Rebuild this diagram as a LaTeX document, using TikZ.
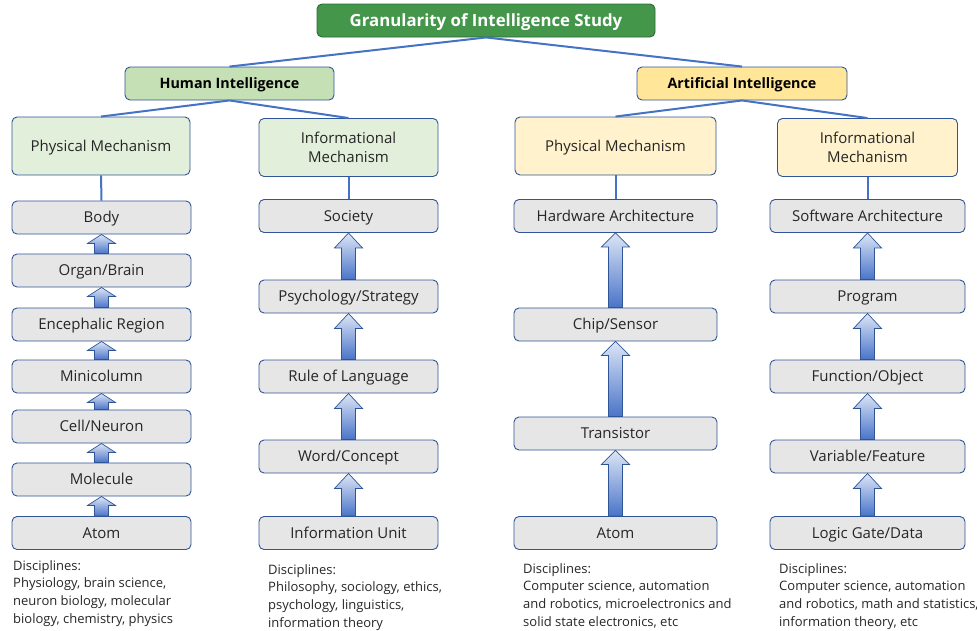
\documentclass[tikz,border=0pt]{standalone}
\usepackage{fontspec}
\setmainfont{Open Sans}
\usetikzlibrary{calc}
\definecolor{edgeblue}{HTML}{2F5597}
\definecolor{lineblue}{HTML}{4472C4}
\definecolor{titlegreen}{HTML}{43964A}
\definecolor{hgreen}{HTML}{C5E0B4}
\definecolor{lgreen}{HTML}{E2EFDA}
\definecolor{ayellow}{HTML}{FFE699}
\definecolor{lyellow}{HTML}{FFF2CC}
\definecolor{boxgray}{HTML}{E7E6E6}
\definecolor{txt}{HTML}{262626}
\definecolor{arrtop}{HTML}{DCE5F6}
\definecolor{arrbot}{HTML}{4A74C8}
\tikzset{
  basebox/.style={draw=edgeblue, line width=0.9pt, rounded corners=5pt, align=center, inner sep=0pt, text=txt},
  titlebox/.style={basebox, text height=14.45pt, text depth=2.35pt, fill=titlegreen, draw=titlegreen!70!black, minimum width=338pt, minimum height=33pt, text=white, font=\fontsize{16.8}{18}\selectfont\bfseries},
  hibox/.style={basebox, text height=12.3pt, text depth=2pt, fill=hgreen, minimum width=209pt, minimum height=33pt, text=black, font=\fontsize{14.3}{16}\selectfont\bfseries},
  aibox/.style={hibox, fill=ayellow, minimum width=210pt},
  mechbox/.style={basebox, minimum height=58pt, font=\fontsize{15}{19.5}\selectfont},
  oneline/.style={text height=12.9pt, text depth=2.1pt},
  levelbox/.style={basebox, oneline, fill=boxgray, minimum height=33pt, font=\fontsize{15}{16}\selectfont},
  conn/.style={draw=lineblue, line width=2pt},
  arrowfill/.style={draw=edgeblue, line width=0.7pt, top color=arrtop, bottom color=arrbot, line join=miter},
  disc/.style={anchor=north west, align=left, inner sep=0pt, text=txt, font=\fontsize{13}{17.7}\selectfont}
}
% #1 lower node, #2 upper node, #3 head height
\newcommand\upblock[3]{%
  \path[arrowfill] let \p1=(#1.north), \p2=(#2.south) in
   (\x1-7pt,\y1) -- (\x1-7pt,\y2-#3pt) -- (\x1-14pt,\y2-#3pt) -- (\x1,\y2)
   -- (\x1+14pt,\y2-#3pt) -- (\x1+7pt,\y2-#3pt) -- (\x1+7pt,\y1) -- cycle;}
\begin{document}
\begin{tikzpicture}[x=1pt,y=-1pt]
\useasboundingbox (0,0) rectangle (977,630);
% top
\node[titlebox] (title) at (486,20.5) {Granularity of Intelligence Study};
\node[hibox] (hi) at (229.5,83.5) {Human Intelligence};
\node[aibox] (ai) at (742,83.5) {Artificial Intelligence};
% mechanisms
\node[mechbox, oneline, fill=lgreen, minimum width=178pt] (hpm) at (101,146) {Physical Mechanism};
\node[mechbox, fill=lgreen, minimum width=179pt] (him) at (348.5,147.5) {Informational\\Mechanism};
\node[mechbox, oneline, fill=lyellow, minimum width=201pt] (apm) at (615.5,146) {Physical Mechanism};
\node[mechbox, fill=lyellow, minimum width=180pt] (aim) at (867.5,147.5) {Informational\\Mechanism};
% connectors
\draw[conn] (title.south) -- (hi.north);
\draw[conn] (title.south) -- (ai.north);
\draw[conn] (hi.south) -- (hpm.north);
\draw[conn] (hi.south) -- (him.north);
\draw[conn] (ai.south) -- (apm.north);
\draw[conn] (ai.south) -- (aim.north);
% human physical column
\begin{scope}[every node/.style={levelbox, minimum width=179pt}]
\node (h1) at (101.5,217.5) {Body};
\node (h2) at (101.5,270.5) {Organ/Brain};
\node (h3) at (101.5,324.5) {Encephalic Region};
\node (h4) at (101.5,376.5) {Minicolumn};
\node (h5) at (101.5,426.5) {Cell/Neuron};
\node (h6) at (101.5,479.5) {Molecule};
\node (h7) at (101.5,533) {Atom};
\end{scope}
% human informational column
\begin{scope}[every node/.style={levelbox, minimum width=179pt}]
\node (i1) at (348.5,216) {Society};
\node (i2) at (348.5,296.5) {Psychology/Strategy};
\node (i3) at (348.5,376.5) {Rule of Language};
\node (i4) at (348.5,456.5) {Word/Concept};
\node (i5) at (348.5,533) {Information Unit};
\end{scope}
% AI physical column
\begin{scope}[every node/.style={levelbox, minimum width=203pt}]
\node (p1) at (615.5,216) {Hardware Architecture};
\node (p2) at (615.5,324.5) {Chip/Sensor};
\node (p3) at (615.5,433.5) {Transistor};
\node (p4) at (615.5,533) {Atom};
\end{scope}
% AI informational column
\begin{scope}[every node/.style={levelbox, minimum width=195pt}]
\node (s1) at (867.5,216) {Software Architecture};
\node (s2) at (867.5,296.5) {Program};
\node (s3) at (867.5,376.5) {Function/Object};
\node (s4) at (867.5,456.5) {Variable/Feature};
\node (s5) at (867.5,533) {Logic Gate/Data};
\end{scope}
% vertical connectors
\draw[conn] (hpm.south) -- (h1.north);
\draw[conn] (him.south) -- (i1.north);
\draw[conn] (apm.south) -- (p1.north);
\draw[conn] (aim.south) -- (s1.north);
% block arrows
\upblock{h2}{h1}{9}
\upblock{h3}{h2}{9}
\upblock{h4}{h3}{9}
\upblock{h5}{h4}{9}
\upblock{h6}{h5}{9}
\upblock{h7}{h6}{9}
\upblock{i2}{i1}{15}
\upblock{i3}{i2}{15}
\upblock{i4}{i3}{15}
\upblock{i5}{i4}{15}
\upblock{p2}{p1}{14}
\upblock{p3}{p2}{14}
\upblock{p4}{p3}{14}
\upblock{s2}{s1}{15}
\upblock{s3}{s2}{15}
\upblock{s4}{s3}{15}
\upblock{s5}{s4}{15}
% disciplines
\node[disc] (d1) at (13,560) {Disciplines:\\Physiology, brain science,\\neuron biology, molecular\\biology, chemistry, physics};
\node[disc] (d2) at (268,564) {Disciplines:\\Philosophy, sociology, ethics,\\psychology, linguistics,\\information theory};
\node[disc] (d3) at (523,563) {Disciplines:\\Computer science, automation\\and robotics, microelectronics and\\solid state electronics, etc};
\node[disc] (d4) at (779,563) {Disciplines:\\Computer science, automation\\and robotics, math and statistics,\\information theory, etc};
\end{tikzpicture}
\end{document}
